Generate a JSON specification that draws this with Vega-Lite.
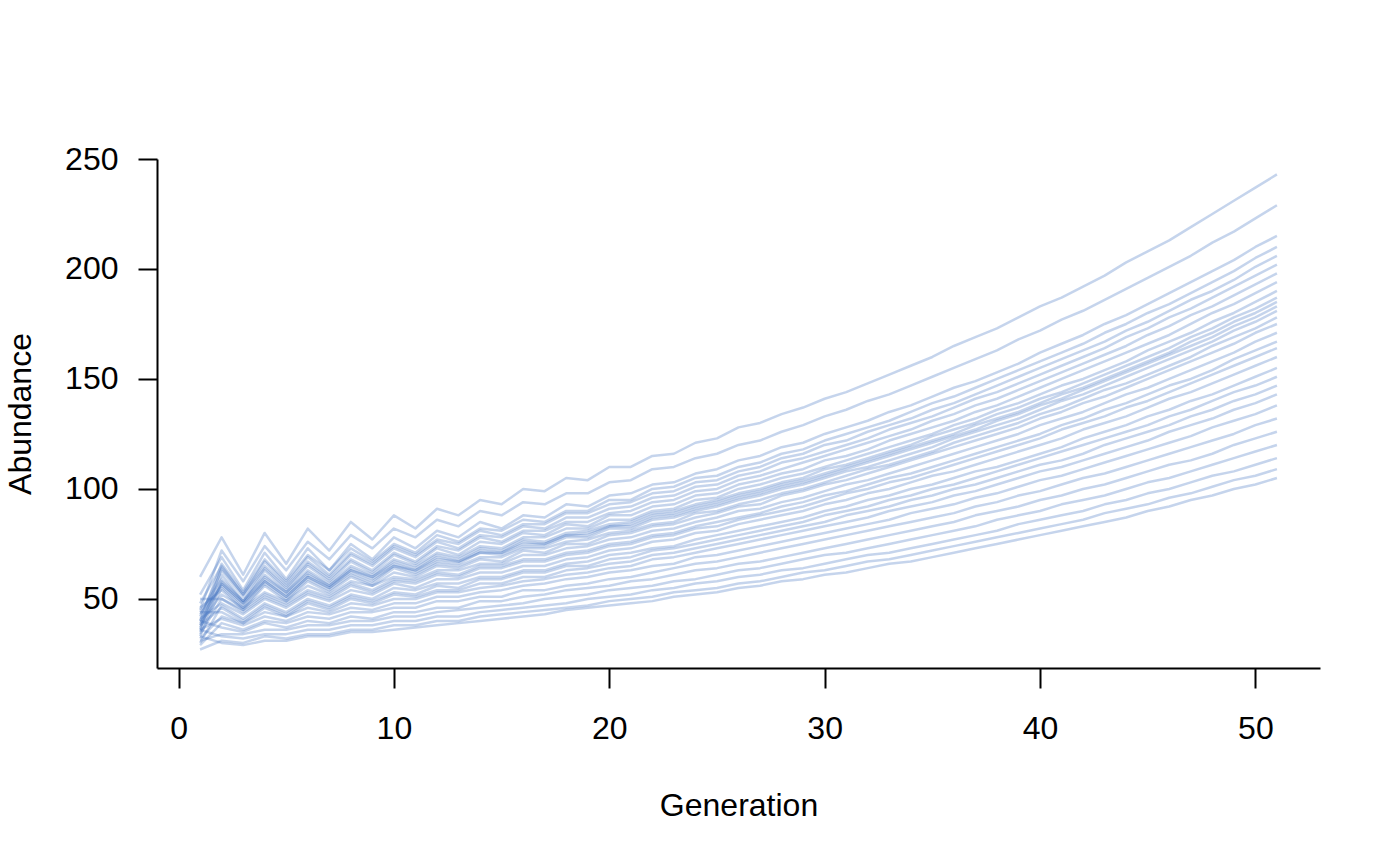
{
"$schema": "https://vega.github.io/schema/vega-lite/v6.json",
"width": 1163,
"height": 509,
"autosize": {"type": "none"},
"padding": {"left": 157, "top": 159, "right": 80, "bottom": 197},
"background": "white",
"config": {"view": {"stroke": null}, "font": "Liberation Sans"},
"data": {"values": [
{"r":1,"g":1,"v":60},{"r":1,"g":2,"v":78},{"r":1,"g":3,"v":61},{"r":1,"g":4,"v":80},{"r":1,"g":5,"v":66},{"r":1,"g":6,"v":82},{"r":1,"g":7,"v":72},{"r":1,"g":8,"v":85},{"r":1,"g":9,"v":77},{"r":1,"g":10,"v":88},{"r":1,"g":11,"v":82},{"r":1,"g":12,"v":91},{"r":1,"g":13,"v":88},{"r":1,"g":14,"v":95},{"r":1,"g":15,"v":93},{"r":1,"g":16,"v":100},{"r":1,"g":17,"v":99},{"r":1,"g":18,"v":105},{"r":1,"g":19,"v":104},{"r":1,"g":20,"v":110},{"r":1,"g":21,"v":110},{"r":1,"g":22,"v":115},{"r":1,"g":23,"v":116},{"r":1,"g":24,"v":121},{"r":1,"g":25,"v":123},{"r":1,"g":26,"v":128},{"r":1,"g":27,"v":130},{"r":1,"g":28,"v":134},{"r":1,"g":29,"v":137},{"r":1,"g":30,"v":141},{"r":1,"g":31,"v":144},{"r":1,"g":32,"v":148},{"r":1,"g":33,"v":152},{"r":1,"g":34,"v":156},{"r":1,"g":35,"v":160},{"r":1,"g":36,"v":165},{"r":1,"g":37,"v":169},{"r":1,"g":38,"v":173},{"r":1,"g":39,"v":178},{"r":1,"g":40,"v":183},{"r":1,"g":41,"v":187},{"r":1,"g":42,"v":192},{"r":1,"g":43,"v":197},{"r":1,"g":44,"v":203},{"r":1,"g":45,"v":208},{"r":1,"g":46,"v":213},{"r":1,"g":47,"v":219},{"r":1,"g":48,"v":225},{"r":1,"g":49,"v":231},{"r":1,"g":50,"v":237},{"r":1,"g":51,"v":243},
{"r":2,"g":1,"v":52},{"r":2,"g":2,"v":69},{"r":2,"g":3,"v":54},{"r":2,"g":4,"v":71},{"r":2,"g":5,"v":59},{"r":2,"g":6,"v":73},{"r":2,"g":7,"v":63},{"r":2,"g":8,"v":75},{"r":2,"g":9,"v":68},{"r":2,"g":10,"v":78},{"r":2,"g":11,"v":73},{"r":2,"g":12,"v":81},{"r":2,"g":13,"v":78},{"r":2,"g":14,"v":85},{"r":2,"g":15,"v":82},{"r":2,"g":16,"v":88},{"r":2,"g":17,"v":87},{"r":2,"g":18,"v":93},{"r":2,"g":19,"v":92},{"r":2,"g":20,"v":97},{"r":2,"g":21,"v":98},{"r":2,"g":22,"v":102},{"r":2,"g":23,"v":103},{"r":2,"g":24,"v":107},{"r":2,"g":25,"v":109},{"r":2,"g":26,"v":113},{"r":2,"g":27,"v":115},{"r":2,"g":28,"v":119},{"r":2,"g":29,"v":121},{"r":2,"g":30,"v":125},{"r":2,"g":31,"v":128},{"r":2,"g":32,"v":131},{"r":2,"g":33,"v":135},{"r":2,"g":34,"v":138},{"r":2,"g":35,"v":142},{"r":2,"g":36,"v":146},{"r":2,"g":37,"v":149},{"r":2,"g":38,"v":153},{"r":2,"g":39,"v":157},{"r":2,"g":40,"v":162},{"r":2,"g":41,"v":166},{"r":2,"g":42,"v":170},{"r":2,"g":43,"v":175},{"r":2,"g":44,"v":179},{"r":2,"g":45,"v":184},{"r":2,"g":46,"v":189},{"r":2,"g":47,"v":194},{"r":2,"g":48,"v":199},{"r":2,"g":49,"v":204},{"r":2,"g":50,"v":210},{"r":2,"g":51,"v":215},
{"r":3,"g":1,"v":45},{"r":3,"g":2,"v":72},{"r":3,"g":3,"v":58},{"r":3,"g":4,"v":74},{"r":3,"g":5,"v":63},{"r":3,"g":6,"v":76},{"r":3,"g":7,"v":68},{"r":3,"g":8,"v":79},{"r":3,"g":9,"v":73},{"r":3,"g":10,"v":82},{"r":3,"g":11,"v":78},{"r":3,"g":12,"v":86},{"r":3,"g":13,"v":83},{"r":3,"g":14,"v":90},{"r":3,"g":15,"v":88},{"r":3,"g":16,"v":94},{"r":3,"g":17,"v":93},{"r":3,"g":18,"v":98},{"r":3,"g":19,"v":98},{"r":3,"g":20,"v":103},{"r":3,"g":21,"v":104},{"r":3,"g":22,"v":109},{"r":3,"g":23,"v":110},{"r":3,"g":24,"v":114},{"r":3,"g":25,"v":116},{"r":3,"g":26,"v":120},{"r":3,"g":27,"v":122},{"r":3,"g":28,"v":126},{"r":3,"g":29,"v":129},{"r":3,"g":30,"v":133},{"r":3,"g":31,"v":136},{"r":3,"g":32,"v":140},{"r":3,"g":33,"v":143},{"r":3,"g":34,"v":147},{"r":3,"g":35,"v":151},{"r":3,"g":36,"v":155},{"r":3,"g":37,"v":159},{"r":3,"g":38,"v":163},{"r":3,"g":39,"v":168},{"r":3,"g":40,"v":172},{"r":3,"g":41,"v":177},{"r":3,"g":42,"v":181},{"r":3,"g":43,"v":186},{"r":3,"g":44,"v":191},{"r":3,"g":45,"v":196},{"r":3,"g":46,"v":201},{"r":3,"g":47,"v":206},{"r":3,"g":48,"v":212},{"r":3,"g":49,"v":217},{"r":3,"g":50,"v":223},{"r":3,"g":51,"v":229},
{"r":4,"g":1,"v":40},{"r":4,"g":2,"v":66},{"r":4,"g":3,"v":53},{"r":4,"g":4,"v":68},{"r":4,"g":5,"v":58},{"r":4,"g":6,"v":70},{"r":4,"g":7,"v":63},{"r":4,"g":8,"v":73},{"r":4,"g":9,"v":67},{"r":4,"g":10,"v":75},{"r":4,"g":11,"v":71},{"r":4,"g":12,"v":79},{"r":4,"g":13,"v":76},{"r":4,"g":14,"v":82},{"r":4,"g":15,"v":81},{"r":4,"g":16,"v":86},{"r":4,"g":17,"v":85},{"r":4,"g":18,"v":90},{"r":4,"g":19,"v":90},{"r":4,"g":20,"v":95},{"r":4,"g":21,"v":95},{"r":4,"g":22,"v":100},{"r":4,"g":23,"v":101},{"r":4,"g":24,"v":105},{"r":4,"g":25,"v":106},{"r":4,"g":26,"v":110},{"r":4,"g":27,"v":112},{"r":4,"g":28,"v":116},{"r":4,"g":29,"v":118},{"r":4,"g":30,"v":122},{"r":4,"g":31,"v":125},{"r":4,"g":32,"v":128},{"r":4,"g":33,"v":131},{"r":4,"g":34,"v":135},{"r":4,"g":35,"v":139},{"r":4,"g":36,"v":142},{"r":4,"g":37,"v":146},{"r":4,"g":38,"v":150},{"r":4,"g":39,"v":154},{"r":4,"g":40,"v":158},{"r":4,"g":41,"v":162},{"r":4,"g":42,"v":166},{"r":4,"g":43,"v":171},{"r":4,"g":44,"v":175},{"r":4,"g":45,"v":180},{"r":4,"g":46,"v":184},{"r":4,"g":47,"v":189},{"r":4,"g":48,"v":194},{"r":4,"g":49,"v":199},{"r":4,"g":50,"v":205},{"r":4,"g":51,"v":210},
{"r":5,"g":1,"v":48},{"r":5,"g":2,"v":65},{"r":5,"g":3,"v":52},{"r":5,"g":4,"v":67},{"r":5,"g":5,"v":57},{"r":5,"g":6,"v":69},{"r":5,"g":7,"v":61},{"r":5,"g":8,"v":71},{"r":5,"g":9,"v":66},{"r":5,"g":10,"v":74},{"r":5,"g":11,"v":70},{"r":5,"g":12,"v":77},{"r":5,"g":13,"v":75},{"r":5,"g":14,"v":81},{"r":5,"g":15,"v":79},{"r":5,"g":16,"v":84},{"r":5,"g":17,"v":84},{"r":5,"g":18,"v":89},{"r":5,"g":19,"v":89},{"r":5,"g":20,"v":93},{"r":5,"g":21,"v":94},{"r":5,"g":22,"v":98},{"r":5,"g":23,"v":99},{"r":5,"g":24,"v":103},{"r":5,"g":25,"v":104},{"r":5,"g":26,"v":108},{"r":5,"g":27,"v":110},{"r":5,"g":28,"v":114},{"r":5,"g":29,"v":116},{"r":5,"g":30,"v":120},{"r":5,"g":31,"v":122},{"r":5,"g":32,"v":126},{"r":5,"g":33,"v":129},{"r":5,"g":34,"v":132},{"r":5,"g":35,"v":136},{"r":5,"g":36,"v":139},{"r":5,"g":37,"v":143},{"r":5,"g":38,"v":147},{"r":5,"g":39,"v":151},{"r":5,"g":40,"v":155},{"r":5,"g":41,"v":159},{"r":5,"g":42,"v":163},{"r":5,"g":43,"v":167},{"r":5,"g":44,"v":172},{"r":5,"g":45,"v":176},{"r":5,"g":46,"v":181},{"r":5,"g":47,"v":186},{"r":5,"g":48,"v":190},{"r":5,"g":49,"v":195},{"r":5,"g":50,"v":201},{"r":5,"g":51,"v":206},
{"r":6,"g":1,"v":36},{"r":6,"g":2,"v":64},{"r":6,"g":3,"v":52},{"r":6,"g":4,"v":65},{"r":6,"g":5,"v":56},{"r":6,"g":6,"v":67},{"r":6,"g":7,"v":60},{"r":6,"g":8,"v":70},{"r":6,"g":9,"v":65},{"r":6,"g":10,"v":73},{"r":6,"g":11,"v":69},{"r":6,"g":12,"v":76},{"r":6,"g":13,"v":73},{"r":6,"g":14,"v":79},{"r":6,"g":15,"v":78},{"r":6,"g":16,"v":83},{"r":6,"g":17,"v":82},{"r":6,"g":18,"v":87},{"r":6,"g":19,"v":87},{"r":6,"g":20,"v":91},{"r":6,"g":21,"v":92},{"r":6,"g":22,"v":96},{"r":6,"g":23,"v":97},{"r":6,"g":24,"v":101},{"r":6,"g":25,"v":102},{"r":6,"g":26,"v":106},{"r":6,"g":27,"v":108},{"r":6,"g":28,"v":112},{"r":6,"g":29,"v":114},{"r":6,"g":30,"v":117},{"r":6,"g":31,"v":120},{"r":6,"g":32,"v":123},{"r":6,"g":33,"v":127},{"r":6,"g":34,"v":130},{"r":6,"g":35,"v":133},{"r":6,"g":36,"v":137},{"r":6,"g":37,"v":141},{"r":6,"g":38,"v":144},{"r":6,"g":39,"v":148},{"r":6,"g":40,"v":152},{"r":6,"g":41,"v":156},{"r":6,"g":42,"v":160},{"r":6,"g":43,"v":164},{"r":6,"g":44,"v":169},{"r":6,"g":45,"v":173},{"r":6,"g":46,"v":178},{"r":6,"g":47,"v":182},{"r":6,"g":48,"v":187},{"r":6,"g":49,"v":192},{"r":6,"g":50,"v":197},{"r":6,"g":51,"v":202},
{"r":7,"g":1,"v":42},{"r":7,"g":2,"v":63},{"r":7,"g":3,"v":51},{"r":7,"g":4,"v":64},{"r":7,"g":5,"v":55},{"r":7,"g":6,"v":66},{"r":7,"g":7,"v":59},{"r":7,"g":8,"v":68},{"r":7,"g":9,"v":63},{"r":7,"g":10,"v":71},{"r":7,"g":11,"v":67},{"r":7,"g":12,"v":74},{"r":7,"g":13,"v":72},{"r":7,"g":14,"v":78},{"r":7,"g":15,"v":76},{"r":7,"g":16,"v":81},{"r":7,"g":17,"v":81},{"r":7,"g":18,"v":85},{"r":7,"g":19,"v":85},{"r":7,"g":20,"v":89},{"r":7,"g":21,"v":90},{"r":7,"g":22,"v":94},{"r":7,"g":23,"v":95},{"r":7,"g":24,"v":99},{"r":7,"g":25,"v":100},{"r":7,"g":26,"v":104},{"r":7,"g":27,"v":106},{"r":7,"g":28,"v":109},{"r":7,"g":29,"v":112},{"r":7,"g":30,"v":115},{"r":7,"g":31,"v":118},{"r":7,"g":32,"v":121},{"r":7,"g":33,"v":124},{"r":7,"g":34,"v":127},{"r":7,"g":35,"v":131},{"r":7,"g":36,"v":134},{"r":7,"g":37,"v":138},{"r":7,"g":38,"v":141},{"r":7,"g":39,"v":145},{"r":7,"g":40,"v":149},{"r":7,"g":41,"v":153},{"r":7,"g":42,"v":157},{"r":7,"g":43,"v":161},{"r":7,"g":44,"v":165},{"r":7,"g":45,"v":170},{"r":7,"g":46,"v":174},{"r":7,"g":47,"v":179},{"r":7,"g":48,"v":183},{"r":7,"g":49,"v":188},{"r":7,"g":50,"v":193},{"r":7,"g":51,"v":198},
{"r":8,"g":1,"v":38},{"r":8,"g":2,"v":61},{"r":8,"g":3,"v":49},{"r":8,"g":4,"v":63},{"r":8,"g":5,"v":54},{"r":8,"g":6,"v":65},{"r":8,"g":7,"v":58},{"r":8,"g":8,"v":67},{"r":8,"g":9,"v":62},{"r":8,"g":10,"v":70},{"r":8,"g":11,"v":66},{"r":8,"g":12,"v":73},{"r":8,"g":13,"v":70},{"r":8,"g":14,"v":76},{"r":8,"g":15,"v":75},{"r":8,"g":16,"v":80},{"r":8,"g":17,"v":79},{"r":8,"g":18,"v":84},{"r":8,"g":19,"v":83},{"r":8,"g":20,"v":88},{"r":8,"g":21,"v":88},{"r":8,"g":22,"v":92},{"r":8,"g":23,"v":93},{"r":8,"g":24,"v":97},{"r":8,"g":25,"v":98},{"r":8,"g":26,"v":102},{"r":8,"g":27,"v":104},{"r":8,"g":28,"v":107},{"r":8,"g":29,"v":109},{"r":8,"g":30,"v":113},{"r":8,"g":31,"v":115},{"r":8,"g":32,"v":118},{"r":8,"g":33,"v":122},{"r":8,"g":34,"v":125},{"r":8,"g":35,"v":128},{"r":8,"g":36,"v":131},{"r":8,"g":37,"v":135},{"r":8,"g":38,"v":138},{"r":8,"g":39,"v":142},{"r":8,"g":40,"v":146},{"r":8,"g":41,"v":150},{"r":8,"g":42,"v":154},{"r":8,"g":43,"v":158},{"r":8,"g":44,"v":162},{"r":8,"g":45,"v":166},{"r":8,"g":46,"v":170},{"r":8,"g":47,"v":175},{"r":8,"g":48,"v":180},{"r":8,"g":49,"v":184},{"r":8,"g":50,"v":189},{"r":8,"g":51,"v":194},
{"r":9,"g":1,"v":44},{"r":9,"g":2,"v":59},{"r":9,"g":3,"v":49},{"r":9,"g":4,"v":61},{"r":9,"g":5,"v":53},{"r":9,"g":6,"v":63},{"r":9,"g":7,"v":57},{"r":9,"g":8,"v":65},{"r":9,"g":9,"v":61},{"r":9,"g":10,"v":68},{"r":9,"g":11,"v":65},{"r":9,"g":12,"v":71},{"r":9,"g":13,"v":69},{"r":9,"g":14,"v":74},{"r":9,"g":15,"v":73},{"r":9,"g":16,"v":78},{"r":9,"g":17,"v":78},{"r":9,"g":18,"v":82},{"r":9,"g":19,"v":82},{"r":9,"g":20,"v":86},{"r":9,"g":21,"v":86},{"r":9,"g":22,"v":90},{"r":9,"g":23,"v":91},{"r":9,"g":24,"v":95},{"r":9,"g":25,"v":96},{"r":9,"g":26,"v":100},{"r":9,"g":27,"v":102},{"r":9,"g":28,"v":105},{"r":9,"g":29,"v":107},{"r":9,"g":30,"v":110},{"r":9,"g":31,"v":113},{"r":9,"g":32,"v":116},{"r":9,"g":33,"v":119},{"r":9,"g":34,"v":122},{"r":9,"g":35,"v":125},{"r":9,"g":36,"v":129},{"r":9,"g":37,"v":132},{"r":9,"g":38,"v":136},{"r":9,"g":39,"v":139},{"r":9,"g":40,"v":143},{"r":9,"g":41,"v":147},{"r":9,"g":42,"v":150},{"r":9,"g":43,"v":154},{"r":9,"g":44,"v":158},{"r":9,"g":45,"v":163},{"r":9,"g":46,"v":167},{"r":9,"g":47,"v":171},{"r":9,"g":48,"v":176},{"r":9,"g":49,"v":180},{"r":9,"g":50,"v":185},{"r":9,"g":51,"v":190},
{"r":10,"g":1,"v":35},{"r":10,"g":2,"v":58},{"r":10,"g":3,"v":49},{"r":10,"g":4,"v":60},{"r":10,"g":5,"v":53},{"r":10,"g":6,"v":62},{"r":10,"g":7,"v":56},{"r":10,"g":8,"v":64},{"r":10,"g":9,"v":60},{"r":10,"g":10,"v":67},{"r":10,"g":11,"v":64},{"r":10,"g":12,"v":70},{"r":10,"g":13,"v":68},{"r":10,"g":14,"v":73},{"r":10,"g":15,"v":72},{"r":10,"g":16,"v":77},{"r":10,"g":17,"v":76},{"r":10,"g":18,"v":80},{"r":10,"g":19,"v":81},{"r":10,"g":20,"v":84},{"r":10,"g":21,"v":85},{"r":10,"g":22,"v":89},{"r":10,"g":23,"v":90},{"r":10,"g":24,"v":93},{"r":10,"g":25,"v":95},{"r":10,"g":26,"v":98},{"r":10,"g":27,"v":100},{"r":10,"g":28,"v":103},{"r":10,"g":29,"v":105},{"r":10,"g":30,"v":109},{"r":10,"g":31,"v":111},{"r":10,"g":32,"v":114},{"r":10,"g":33,"v":117},{"r":10,"g":34,"v":120},{"r":10,"g":35,"v":124},{"r":10,"g":36,"v":127},{"r":10,"g":37,"v":130},{"r":10,"g":38,"v":134},{"r":10,"g":39,"v":137},{"r":10,"g":40,"v":141},{"r":10,"g":41,"v":144},{"r":10,"g":42,"v":148},{"r":10,"g":43,"v":152},{"r":10,"g":44,"v":156},{"r":10,"g":45,"v":160},{"r":10,"g":46,"v":164},{"r":10,"g":47,"v":169},{"r":10,"g":48,"v":173},{"r":10,"g":49,"v":178},{"r":10,"g":50,"v":182},{"r":10,"g":51,"v":187},
{"r":11,"g":1,"v":40},{"r":11,"g":2,"v":57},{"r":11,"g":3,"v":48},{"r":11,"g":4,"v":59},{"r":11,"g":5,"v":52},{"r":11,"g":6,"v":61},{"r":11,"g":7,"v":56},{"r":11,"g":8,"v":63},{"r":11,"g":9,"v":60},{"r":11,"g":10,"v":66},{"r":11,"g":11,"v":63},{"r":11,"g":12,"v":69},{"r":11,"g":13,"v":67},{"r":11,"g":14,"v":72},{"r":11,"g":15,"v":71},{"r":11,"g":16,"v":76},{"r":11,"g":17,"v":75},{"r":11,"g":18,"v":79},{"r":11,"g":19,"v":80},{"r":11,"g":20,"v":83},{"r":11,"g":21,"v":84},{"r":11,"g":22,"v":88},{"r":11,"g":23,"v":89},{"r":11,"g":24,"v":92},{"r":11,"g":25,"v":94},{"r":11,"g":26,"v":97},{"r":11,"g":27,"v":99},{"r":11,"g":28,"v":102},{"r":11,"g":29,"v":104},{"r":11,"g":30,"v":107},{"r":11,"g":31,"v":110},{"r":11,"g":32,"v":113},{"r":11,"g":33,"v":116},{"r":11,"g":34,"v":119},{"r":11,"g":35,"v":122},{"r":11,"g":36,"v":125},{"r":11,"g":37,"v":129},{"r":11,"g":38,"v":132},{"r":11,"g":39,"v":135},{"r":11,"g":40,"v":139},{"r":11,"g":41,"v":143},{"r":11,"g":42,"v":146},{"r":11,"g":43,"v":150},{"r":11,"g":44,"v":154},{"r":11,"g":45,"v":158},{"r":11,"g":46,"v":162},{"r":11,"g":47,"v":167},{"r":11,"g":48,"v":171},{"r":11,"g":49,"v":176},{"r":11,"g":50,"v":180},{"r":11,"g":51,"v":185},
{"r":12,"g":1,"v":37},{"r":12,"g":2,"v":57},{"r":12,"g":3,"v":48},{"r":12,"g":4,"v":58},{"r":12,"g":5,"v":51},{"r":12,"g":6,"v":60},{"r":12,"g":7,"v":55},{"r":12,"g":8,"v":63},{"r":12,"g":9,"v":59},{"r":12,"g":10,"v":65},{"r":12,"g":11,"v":63},{"r":12,"g":12,"v":68},{"r":12,"g":13,"v":67},{"r":12,"g":14,"v":71},{"r":12,"g":15,"v":71},{"r":12,"g":16,"v":75},{"r":12,"g":17,"v":75},{"r":12,"g":18,"v":79},{"r":12,"g":19,"v":79},{"r":12,"g":20,"v":83},{"r":12,"g":21,"v":83},{"r":12,"g":22,"v":87},{"r":12,"g":23,"v":88},{"r":12,"g":24,"v":91},{"r":12,"g":25,"v":93},{"r":12,"g":26,"v":96},{"r":12,"g":27,"v":98},{"r":12,"g":28,"v":101},{"r":12,"g":29,"v":103},{"r":12,"g":30,"v":106},{"r":12,"g":31,"v":109},{"r":12,"g":32,"v":112},{"r":12,"g":33,"v":115},{"r":12,"g":34,"v":118},{"r":12,"g":35,"v":121},{"r":12,"g":36,"v":124},{"r":12,"g":37,"v":127},{"r":12,"g":38,"v":131},{"r":12,"g":39,"v":134},{"r":12,"g":40,"v":138},{"r":12,"g":41,"v":141},{"r":12,"g":42,"v":145},{"r":12,"g":43,"v":149},{"r":12,"g":44,"v":153},{"r":12,"g":45,"v":157},{"r":12,"g":46,"v":161},{"r":12,"g":47,"v":165},{"r":12,"g":48,"v":169},{"r":12,"g":49,"v":174},{"r":12,"g":50,"v":178},{"r":12,"g":51,"v":183},
{"r":13,"g":1,"v":43},{"r":13,"g":2,"v":56},{"r":13,"g":3,"v":47},{"r":13,"g":4,"v":58},{"r":13,"g":5,"v":51},{"r":13,"g":6,"v":60},{"r":13,"g":7,"v":55},{"r":13,"g":8,"v":62},{"r":13,"g":9,"v":58},{"r":13,"g":10,"v":65},{"r":13,"g":11,"v":62},{"r":13,"g":12,"v":67},{"r":13,"g":13,"v":66},{"r":13,"g":14,"v":71},{"r":13,"g":15,"v":70},{"r":13,"g":16,"v":74},{"r":13,"g":17,"v":74},{"r":13,"g":18,"v":78},{"r":13,"g":19,"v":78},{"r":13,"g":20,"v":82},{"r":13,"g":21,"v":82},{"r":13,"g":22,"v":86},{"r":13,"g":23,"v":87},{"r":13,"g":24,"v":90},{"r":13,"g":25,"v":92},{"r":13,"g":26,"v":95},{"r":13,"g":27,"v":97},{"r":13,"g":28,"v":100},{"r":13,"g":29,"v":102},{"r":13,"g":30,"v":105},{"r":13,"g":31,"v":108},{"r":13,"g":32,"v":110},{"r":13,"g":33,"v":113},{"r":13,"g":34,"v":116},{"r":13,"g":35,"v":119},{"r":13,"g":36,"v":123},{"r":13,"g":37,"v":126},{"r":13,"g":38,"v":129},{"r":13,"g":39,"v":132},{"r":13,"g":40,"v":136},{"r":13,"g":41,"v":140},{"r":13,"g":42,"v":143},{"r":13,"g":43,"v":147},{"r":13,"g":44,"v":151},{"r":13,"g":45,"v":155},{"r":13,"g":46,"v":159},{"r":13,"g":47,"v":163},{"r":13,"g":48,"v":167},{"r":13,"g":49,"v":172},{"r":13,"g":50,"v":176},{"r":13,"g":51,"v":181},
{"r":14,"g":1,"v":33},{"r":14,"g":2,"v":55},{"r":14,"g":3,"v":46},{"r":14,"g":4,"v":57},{"r":14,"g":5,"v":50},{"r":14,"g":6,"v":59},{"r":14,"g":7,"v":54},{"r":14,"g":8,"v":61},{"r":14,"g":9,"v":57},{"r":14,"g":10,"v":64},{"r":14,"g":11,"v":61},{"r":14,"g":12,"v":66},{"r":14,"g":13,"v":65},{"r":14,"g":14,"v":69},{"r":14,"g":15,"v":69},{"r":14,"g":16,"v":73},{"r":14,"g":17,"v":73},{"r":14,"g":18,"v":76},{"r":14,"g":19,"v":77},{"r":14,"g":20,"v":80},{"r":14,"g":21,"v":81},{"r":14,"g":22,"v":84},{"r":14,"g":23,"v":85},{"r":14,"g":24,"v":89},{"r":14,"g":25,"v":90},{"r":14,"g":26,"v":93},{"r":14,"g":27,"v":95},{"r":14,"g":28,"v":98},{"r":14,"g":29,"v":100},{"r":14,"g":30,"v":103},{"r":14,"g":31,"v":106},{"r":14,"g":32,"v":109},{"r":14,"g":33,"v":111},{"r":14,"g":34,"v":114},{"r":14,"g":35,"v":117},{"r":14,"g":36,"v":121},{"r":14,"g":37,"v":124},{"r":14,"g":38,"v":127},{"r":14,"g":39,"v":130},{"r":14,"g":40,"v":134},{"r":14,"g":41,"v":137},{"r":14,"g":42,"v":141},{"r":14,"g":43,"v":145},{"r":14,"g":44,"v":148},{"r":14,"g":45,"v":152},{"r":14,"g":46,"v":156},{"r":14,"g":47,"v":160},{"r":14,"g":48,"v":165},{"r":14,"g":49,"v":169},{"r":14,"g":50,"v":173},{"r":14,"g":51,"v":178},
{"r":15,"g":1,"v":46},{"r":15,"g":2,"v":54},{"r":15,"g":3,"v":45},{"r":15,"g":4,"v":56},{"r":15,"g":5,"v":49},{"r":15,"g":6,"v":58},{"r":15,"g":7,"v":53},{"r":15,"g":8,"v":60},{"r":15,"g":9,"v":56},{"r":15,"g":10,"v":62},{"r":15,"g":11,"v":60},{"r":15,"g":12,"v":65},{"r":15,"g":13,"v":64},{"r":15,"g":14,"v":68},{"r":15,"g":15,"v":67},{"r":15,"g":16,"v":72},{"r":15,"g":17,"v":71},{"r":15,"g":18,"v":75},{"r":15,"g":19,"v":75},{"r":15,"g":20,"v":79},{"r":15,"g":21,"v":80},{"r":15,"g":22,"v":83},{"r":15,"g":23,"v":84},{"r":15,"g":24,"v":87},{"r":15,"g":25,"v":89},{"r":15,"g":26,"v":92},{"r":15,"g":27,"v":93},{"r":15,"g":28,"v":97},{"r":15,"g":29,"v":99},{"r":15,"g":30,"v":102},{"r":15,"g":31,"v":104},{"r":15,"g":32,"v":107},{"r":15,"g":33,"v":110},{"r":15,"g":34,"v":113},{"r":15,"g":35,"v":116},{"r":15,"g":36,"v":119},{"r":15,"g":37,"v":122},{"r":15,"g":38,"v":125},{"r":15,"g":39,"v":128},{"r":15,"g":40,"v":132},{"r":15,"g":41,"v":135},{"r":15,"g":42,"v":139},{"r":15,"g":43,"v":142},{"r":15,"g":44,"v":146},{"r":15,"g":45,"v":150},{"r":15,"g":46,"v":154},{"r":15,"g":47,"v":158},{"r":15,"g":48,"v":162},{"r":15,"g":49,"v":166},{"r":15,"g":50,"v":171},{"r":15,"g":51,"v":175},
{"r":16,"g":1,"v":39},{"r":16,"g":2,"v":52},{"r":16,"g":3,"v":46},{"r":16,"g":4,"v":53},{"r":16,"g":5,"v":49},{"r":16,"g":6,"v":56},{"r":16,"g":7,"v":52},{"r":16,"g":8,"v":58},{"r":16,"g":9,"v":56},{"r":16,"g":10,"v":60},{"r":16,"g":11,"v":59},{"r":16,"g":12,"v":63},{"r":16,"g":13,"v":63},{"r":16,"g":14,"v":66},{"r":16,"g":15,"v":66},{"r":16,"g":16,"v":70},{"r":16,"g":17,"v":70},{"r":16,"g":18,"v":73},{"r":16,"g":19,"v":74},{"r":16,"g":20,"v":77},{"r":16,"g":21,"v":78},{"r":16,"g":22,"v":81},{"r":16,"g":23,"v":82},{"r":16,"g":24,"v":85},{"r":16,"g":25,"v":87},{"r":16,"g":26,"v":90},{"r":16,"g":27,"v":91},{"r":16,"g":28,"v":94},{"r":16,"g":29,"v":96},{"r":16,"g":30,"v":99},{"r":16,"g":31,"v":102},{"r":16,"g":32,"v":104},{"r":16,"g":33,"v":107},{"r":16,"g":34,"v":110},{"r":16,"g":35,"v":113},{"r":16,"g":36,"v":116},{"r":16,"g":37,"v":119},{"r":16,"g":38,"v":122},{"r":16,"g":39,"v":125},{"r":16,"g":40,"v":129},{"r":16,"g":41,"v":132},{"r":16,"g":42,"v":135},{"r":16,"g":43,"v":139},{"r":16,"g":44,"v":143},{"r":16,"g":45,"v":146},{"r":16,"g":46,"v":150},{"r":16,"g":47,"v":154},{"r":16,"g":48,"v":158},{"r":16,"g":49,"v":162},{"r":16,"g":50,"v":167},{"r":16,"g":51,"v":171},
{"r":17,"g":1,"v":50},{"r":17,"g":2,"v":50},{"r":17,"g":3,"v":45},{"r":17,"g":4,"v":52},{"r":17,"g":5,"v":48},{"r":17,"g":6,"v":54},{"r":17,"g":7,"v":51},{"r":17,"g":8,"v":57},{"r":17,"g":9,"v":54},{"r":17,"g":10,"v":59},{"r":17,"g":11,"v":58},{"r":17,"g":12,"v":62},{"r":17,"g":13,"v":61},{"r":17,"g":14,"v":65},{"r":17,"g":15,"v":65},{"r":17,"g":16,"v":68},{"r":17,"g":17,"v":68},{"r":17,"g":18,"v":71},{"r":17,"g":19,"v":72},{"r":17,"g":20,"v":75},{"r":17,"g":21,"v":76},{"r":17,"g":22,"v":79},{"r":17,"g":23,"v":80},{"r":17,"g":24,"v":83},{"r":17,"g":25,"v":85},{"r":17,"g":26,"v":87},{"r":17,"g":27,"v":89},{"r":17,"g":28,"v":92},{"r":17,"g":29,"v":94},{"r":17,"g":30,"v":97},{"r":17,"g":31,"v":99},{"r":17,"g":32,"v":102},{"r":17,"g":33,"v":105},{"r":17,"g":34,"v":107},{"r":17,"g":35,"v":110},{"r":17,"g":36,"v":113},{"r":17,"g":37,"v":116},{"r":17,"g":38,"v":119},{"r":17,"g":39,"v":122},{"r":17,"g":40,"v":125},{"r":17,"g":41,"v":129},{"r":17,"g":42,"v":132},{"r":17,"g":43,"v":136},{"r":17,"g":44,"v":139},{"r":17,"g":45,"v":143},{"r":17,"g":46,"v":147},{"r":17,"g":47,"v":150},{"r":17,"g":48,"v":154},{"r":17,"g":49,"v":159},{"r":17,"g":50,"v":163},{"r":17,"g":51,"v":167},
{"r":18,"g":1,"v":34},{"r":18,"g":2,"v":50},{"r":18,"g":3,"v":44},{"r":18,"g":4,"v":51},{"r":18,"g":5,"v":47},{"r":18,"g":6,"v":53},{"r":18,"g":7,"v":50},{"r":18,"g":8,"v":56},{"r":18,"g":9,"v":53},{"r":18,"g":10,"v":58},{"r":18,"g":11,"v":57},{"r":18,"g":12,"v":61},{"r":18,"g":13,"v":60},{"r":18,"g":14,"v":64},{"r":18,"g":15,"v":64},{"r":18,"g":16,"v":67},{"r":18,"g":17,"v":67},{"r":18,"g":18,"v":70},{"r":18,"g":19,"v":71},{"r":18,"g":20,"v":74},{"r":18,"g":21,"v":75},{"r":18,"g":22,"v":78},{"r":18,"g":23,"v":79},{"r":18,"g":24,"v":82},{"r":18,"g":25,"v":83},{"r":18,"g":26,"v":86},{"r":18,"g":27,"v":88},{"r":18,"g":28,"v":90},{"r":18,"g":29,"v":92},{"r":18,"g":30,"v":95},{"r":18,"g":31,"v":98},{"r":18,"g":32,"v":100},{"r":18,"g":33,"v":103},{"r":18,"g":34,"v":105},{"r":18,"g":35,"v":108},{"r":18,"g":36,"v":111},{"r":18,"g":37,"v":114},{"r":18,"g":38,"v":117},{"r":18,"g":39,"v":120},{"r":18,"g":40,"v":123},{"r":18,"g":41,"v":127},{"r":18,"g":42,"v":130},{"r":18,"g":43,"v":133},{"r":18,"g":44,"v":137},{"r":18,"g":45,"v":140},{"r":18,"g":46,"v":144},{"r":18,"g":47,"v":148},{"r":18,"g":48,"v":152},{"r":18,"g":49,"v":156},{"r":18,"g":50,"v":160},{"r":18,"g":51,"v":164},
{"r":19,"g":1,"v":41},{"r":19,"g":2,"v":48},{"r":19,"g":3,"v":43},{"r":19,"g":4,"v":50},{"r":19,"g":5,"v":46},{"r":19,"g":6,"v":52},{"r":19,"g":7,"v":49},{"r":19,"g":8,"v":54},{"r":19,"g":9,"v":52},{"r":19,"g":10,"v":57},{"r":19,"g":11,"v":55},{"r":19,"g":12,"v":59},{"r":19,"g":13,"v":59},{"r":19,"g":14,"v":62},{"r":19,"g":15,"v":62},{"r":19,"g":16,"v":65},{"r":19,"g":17,"v":65},{"r":19,"g":18,"v":68},{"r":19,"g":19,"v":69},{"r":19,"g":20,"v":72},{"r":19,"g":21,"v":73},{"r":19,"g":22,"v":76},{"r":19,"g":23,"v":77},{"r":19,"g":24,"v":80},{"r":19,"g":25,"v":81},{"r":19,"g":26,"v":84},{"r":19,"g":27,"v":86},{"r":19,"g":28,"v":88},{"r":19,"g":29,"v":90},{"r":19,"g":30,"v":93},{"r":19,"g":31,"v":95},{"r":19,"g":32,"v":98},{"r":19,"g":33,"v":100},{"r":19,"g":34,"v":103},{"r":19,"g":35,"v":106},{"r":19,"g":36,"v":108},{"r":19,"g":37,"v":111},{"r":19,"g":38,"v":114},{"r":19,"g":39,"v":117},{"r":19,"g":40,"v":120},{"r":19,"g":41,"v":123},{"r":19,"g":42,"v":127},{"r":19,"g":43,"v":130},{"r":19,"g":44,"v":133},{"r":19,"g":45,"v":137},{"r":19,"g":46,"v":141},{"r":19,"g":47,"v":144},{"r":19,"g":48,"v":148},{"r":19,"g":49,"v":152},{"r":19,"g":50,"v":156},{"r":19,"g":51,"v":160},
{"r":20,"g":1,"v":30},{"r":20,"g":2,"v":47},{"r":20,"g":3,"v":41},{"r":20,"g":4,"v":48},{"r":20,"g":5,"v":44},{"r":20,"g":6,"v":50},{"r":20,"g":7,"v":47},{"r":20,"g":8,"v":52},{"r":20,"g":9,"v":50},{"r":20,"g":10,"v":55},{"r":20,"g":11,"v":54},{"r":20,"g":12,"v":57},{"r":20,"g":13,"v":57},{"r":20,"g":14,"v":60},{"r":20,"g":15,"v":60},{"r":20,"g":16,"v":63},{"r":20,"g":17,"v":63},{"r":20,"g":18,"v":66},{"r":20,"g":19,"v":67},{"r":20,"g":20,"v":70},{"r":20,"g":21,"v":71},{"r":20,"g":22,"v":73},{"r":20,"g":23,"v":74},{"r":20,"g":24,"v":77},{"r":20,"g":25,"v":79},{"r":20,"g":26,"v":81},{"r":20,"g":27,"v":83},{"r":20,"g":28,"v":85},{"r":20,"g":29,"v":87},{"r":20,"g":30,"v":90},{"r":20,"g":31,"v":92},{"r":20,"g":32,"v":95},{"r":20,"g":33,"v":97},{"r":20,"g":34,"v":100},{"r":20,"g":35,"v":102},{"r":20,"g":36,"v":105},{"r":20,"g":37,"v":108},{"r":20,"g":38,"v":110},{"r":20,"g":39,"v":113},{"r":20,"g":40,"v":116},{"r":20,"g":41,"v":119},{"r":20,"g":42,"v":123},{"r":20,"g":43,"v":126},{"r":20,"g":44,"v":129},{"r":20,"g":45,"v":133},{"r":20,"g":46,"v":136},{"r":20,"g":47,"v":140},{"r":20,"g":48,"v":143},{"r":20,"g":49,"v":147},{"r":20,"g":50,"v":151},{"r":20,"g":51,"v":155},
{"r":21,"g":1,"v":38},{"r":21,"g":2,"v":46},{"r":21,"g":3,"v":40},{"r":21,"g":4,"v":47},{"r":21,"g":5,"v":43},{"r":21,"g":6,"v":49},{"r":21,"g":7,"v":46},{"r":21,"g":8,"v":51},{"r":21,"g":9,"v":49},{"r":21,"g":10,"v":53},{"r":21,"g":11,"v":52},{"r":21,"g":12,"v":56},{"r":21,"g":13,"v":55},{"r":21,"g":14,"v":59},{"r":21,"g":15,"v":59},{"r":21,"g":16,"v":62},{"r":21,"g":17,"v":62},{"r":21,"g":18,"v":65},{"r":21,"g":19,"v":65},{"r":21,"g":20,"v":68},{"r":21,"g":21,"v":69},{"r":21,"g":22,"v":72},{"r":21,"g":23,"v":73},{"r":21,"g":24,"v":75},{"r":21,"g":25,"v":77},{"r":21,"g":26,"v":79},{"r":21,"g":27,"v":81},{"r":21,"g":28,"v":83},{"r":21,"g":29,"v":85},{"r":21,"g":30,"v":88},{"r":21,"g":31,"v":90},{"r":21,"g":32,"v":92},{"r":21,"g":33,"v":95},{"r":21,"g":34,"v":97},{"r":21,"g":35,"v":100},{"r":21,"g":36,"v":102},{"r":21,"g":37,"v":105},{"r":21,"g":38,"v":108},{"r":21,"g":39,"v":111},{"r":21,"g":40,"v":114},{"r":21,"g":41,"v":117},{"r":21,"g":42,"v":120},{"r":21,"g":43,"v":123},{"r":21,"g":44,"v":126},{"r":21,"g":45,"v":129},{"r":21,"g":46,"v":133},{"r":21,"g":47,"v":136},{"r":21,"g":48,"v":140},{"r":21,"g":49,"v":144},{"r":21,"g":50,"v":147},{"r":21,"g":51,"v":151},
{"r":22,"g":1,"v":44},{"r":22,"g":2,"v":44},{"r":22,"g":3,"v":39},{"r":22,"g":4,"v":46},{"r":22,"g":5,"v":42},{"r":22,"g":6,"v":48},{"r":22,"g":7,"v":45},{"r":22,"g":8,"v":50},{"r":22,"g":9,"v":48},{"r":22,"g":10,"v":52},{"r":22,"g":11,"v":51},{"r":22,"g":12,"v":54},{"r":22,"g":13,"v":54},{"r":22,"g":14,"v":57},{"r":22,"g":15,"v":57},{"r":22,"g":16,"v":60},{"r":22,"g":17,"v":60},{"r":22,"g":18,"v":63},{"r":22,"g":19,"v":64},{"r":22,"g":20,"v":66},{"r":22,"g":21,"v":67},{"r":22,"g":22,"v":70},{"r":22,"g":23,"v":71},{"r":22,"g":24,"v":73},{"r":22,"g":25,"v":75},{"r":22,"g":26,"v":77},{"r":22,"g":27,"v":79},{"r":22,"g":28,"v":81},{"r":22,"g":29,"v":83},{"r":22,"g":30,"v":85},{"r":22,"g":31,"v":88},{"r":22,"g":32,"v":90},{"r":22,"g":33,"v":92},{"r":22,"g":34,"v":95},{"r":22,"g":35,"v":97},{"r":22,"g":36,"v":100},{"r":22,"g":37,"v":102},{"r":22,"g":38,"v":105},{"r":22,"g":39,"v":108},{"r":22,"g":40,"v":111},{"r":22,"g":41,"v":113},{"r":22,"g":42,"v":116},{"r":22,"g":43,"v":120},{"r":22,"g":44,"v":123},{"r":22,"g":45,"v":126},{"r":22,"g":46,"v":129},{"r":22,"g":47,"v":133},{"r":22,"g":48,"v":136},{"r":22,"g":49,"v":140},{"r":22,"g":50,"v":143},{"r":22,"g":51,"v":147},
{"r":23,"g":1,"v":32},{"r":23,"g":2,"v":42},{"r":23,"g":3,"v":39},{"r":23,"g":4,"v":44},{"r":23,"g":5,"v":42},{"r":23,"g":6,"v":46},{"r":23,"g":7,"v":44},{"r":23,"g":8,"v":48},{"r":23,"g":9,"v":47},{"r":23,"g":10,"v":50},{"r":23,"g":11,"v":50},{"r":23,"g":12,"v":53},{"r":23,"g":13,"v":53},{"r":23,"g":14,"v":55},{"r":23,"g":15,"v":56},{"r":23,"g":16,"v":58},{"r":23,"g":17,"v":59},{"r":23,"g":18,"v":61},{"r":23,"g":19,"v":62},{"r":23,"g":20,"v":64},{"r":23,"g":21,"v":65},{"r":23,"g":22,"v":68},{"r":23,"g":23,"v":69},{"r":23,"g":24,"v":71},{"r":23,"g":25,"v":73},{"r":23,"g":26,"v":75},{"r":23,"g":27,"v":77},{"r":23,"g":28,"v":79},{"r":23,"g":29,"v":81},{"r":23,"g":30,"v":83},{"r":23,"g":31,"v":85},{"r":23,"g":32,"v":87},{"r":23,"g":33,"v":90},{"r":23,"g":34,"v":92},{"r":23,"g":35,"v":94},{"r":23,"g":36,"v":97},{"r":23,"g":37,"v":99},{"r":23,"g":38,"v":102},{"r":23,"g":39,"v":105},{"r":23,"g":40,"v":108},{"r":23,"g":41,"v":110},{"r":23,"g":42,"v":113},{"r":23,"g":43,"v":116},{"r":23,"g":44,"v":119},{"r":23,"g":45,"v":122},{"r":23,"g":46,"v":126},{"r":23,"g":47,"v":129},{"r":23,"g":48,"v":132},{"r":23,"g":49,"v":136},{"r":23,"g":50,"v":139},{"r":23,"g":51,"v":143},
{"r":24,"g":1,"v":36},{"r":24,"g":2,"v":41},{"r":24,"g":3,"v":38},{"r":24,"g":4,"v":42},{"r":24,"g":5,"v":40},{"r":24,"g":6,"v":44},{"r":24,"g":7,"v":43},{"r":24,"g":8,"v":46},{"r":24,"g":9,"v":45},{"r":24,"g":10,"v":48},{"r":24,"g":11,"v":48},{"r":24,"g":12,"v":51},{"r":24,"g":13,"v":51},{"r":24,"g":14,"v":53},{"r":24,"g":15,"v":54},{"r":24,"g":16,"v":56},{"r":24,"g":17,"v":57},{"r":24,"g":18,"v":59},{"r":24,"g":19,"v":60},{"r":24,"g":20,"v":62},{"r":24,"g":21,"v":63},{"r":24,"g":22,"v":65},{"r":24,"g":23,"v":66},{"r":24,"g":24,"v":69},{"r":24,"g":25,"v":70},{"r":24,"g":26,"v":72},{"r":24,"g":27,"v":74},{"r":24,"g":28,"v":76},{"r":24,"g":29,"v":78},{"r":24,"g":30,"v":80},{"r":24,"g":31,"v":82},{"r":24,"g":32,"v":84},{"r":24,"g":33,"v":86},{"r":24,"g":34,"v":89},{"r":24,"g":35,"v":91},{"r":24,"g":36,"v":93},{"r":24,"g":37,"v":96},{"r":24,"g":38,"v":98},{"r":24,"g":39,"v":101},{"r":24,"g":40,"v":104},{"r":24,"g":41,"v":106},{"r":24,"g":42,"v":109},{"r":24,"g":43,"v":112},{"r":24,"g":44,"v":115},{"r":24,"g":45,"v":118},{"r":24,"g":46,"v":121},{"r":24,"g":47,"v":124},{"r":24,"g":48,"v":128},{"r":24,"g":49,"v":131},{"r":24,"g":50,"v":134},{"r":24,"g":51,"v":138},
{"r":25,"g":1,"v":29},{"r":25,"g":2,"v":39},{"r":25,"g":3,"v":36},{"r":25,"g":4,"v":40},{"r":25,"g":5,"v":39},{"r":25,"g":6,"v":42},{"r":25,"g":7,"v":41},{"r":25,"g":8,"v":44},{"r":25,"g":9,"v":44},{"r":25,"g":10,"v":46},{"r":25,"g":11,"v":46},{"r":25,"g":12,"v":49},{"r":25,"g":13,"v":49},{"r":25,"g":14,"v":51},{"r":25,"g":15,"v":51},{"r":25,"g":16,"v":54},{"r":25,"g":17,"v":54},{"r":25,"g":18,"v":56},{"r":25,"g":19,"v":57},{"r":25,"g":20,"v":59},{"r":25,"g":21,"v":60},{"r":25,"g":22,"v":62},{"r":25,"g":23,"v":64},{"r":25,"g":24,"v":66},{"r":25,"g":25,"v":67},{"r":25,"g":26,"v":69},{"r":25,"g":27,"v":71},{"r":25,"g":28,"v":73},{"r":25,"g":29,"v":75},{"r":25,"g":30,"v":77},{"r":25,"g":31,"v":79},{"r":25,"g":32,"v":81},{"r":25,"g":33,"v":83},{"r":25,"g":34,"v":85},{"r":25,"g":35,"v":87},{"r":25,"g":36,"v":89},{"r":25,"g":37,"v":92},{"r":25,"g":38,"v":94},{"r":25,"g":39,"v":97},{"r":25,"g":40,"v":99},{"r":25,"g":41,"v":102},{"r":25,"g":42,"v":105},{"r":25,"g":43,"v":107},{"r":25,"g":44,"v":110},{"r":25,"g":45,"v":113},{"r":25,"g":46,"v":116},{"r":25,"g":47,"v":119},{"r":25,"g":48,"v":122},{"r":25,"g":49,"v":125},{"r":25,"g":50,"v":129},{"r":25,"g":51,"v":132},
{"r":26,"g":1,"v":40},{"r":26,"g":2,"v":37},{"r":26,"g":3,"v":35},{"r":26,"g":4,"v":39},{"r":26,"g":5,"v":37},{"r":26,"g":6,"v":40},{"r":26,"g":7,"v":39},{"r":26,"g":8,"v":42},{"r":26,"g":9,"v":41},{"r":26,"g":10,"v":44},{"r":26,"g":11,"v":44},{"r":26,"g":12,"v":46},{"r":26,"g":13,"v":46},{"r":26,"g":14,"v":49},{"r":26,"g":15,"v":49},{"r":26,"g":16,"v":51},{"r":26,"g":17,"v":52},{"r":26,"g":18,"v":54},{"r":26,"g":19,"v":55},{"r":26,"g":20,"v":56},{"r":26,"g":21,"v":58},{"r":26,"g":22,"v":59},{"r":26,"g":23,"v":61},{"r":26,"g":24,"v":63},{"r":26,"g":25,"v":64},{"r":26,"g":26,"v":66},{"r":26,"g":27,"v":67},{"r":26,"g":28,"v":69},{"r":26,"g":29,"v":71},{"r":26,"g":30,"v":73},{"r":26,"g":31,"v":75},{"r":26,"g":32,"v":77},{"r":26,"g":33,"v":79},{"r":26,"g":34,"v":81},{"r":26,"g":35,"v":83},{"r":26,"g":36,"v":85},{"r":26,"g":37,"v":88},{"r":26,"g":38,"v":90},{"r":26,"g":39,"v":92},{"r":26,"g":40,"v":95},{"r":26,"g":41,"v":97},{"r":26,"g":42,"v":100},{"r":26,"g":43,"v":102},{"r":26,"g":44,"v":105},{"r":26,"g":45,"v":108},{"r":26,"g":46,"v":111},{"r":26,"g":47,"v":113},{"r":26,"g":48,"v":116},{"r":26,"g":49,"v":120},{"r":26,"g":50,"v":123},{"r":26,"g":51,"v":126},
{"r":27,"g":1,"v":31},{"r":27,"g":2,"v":34},{"r":27,"g":3,"v":34},{"r":27,"g":4,"v":36},{"r":27,"g":5,"v":36},{"r":27,"g":6,"v":38},{"r":27,"g":7,"v":38},{"r":27,"g":8,"v":40},{"r":27,"g":9,"v":40},{"r":27,"g":10,"v":42},{"r":27,"g":11,"v":42},{"r":27,"g":12,"v":44},{"r":27,"g":13,"v":45},{"r":27,"g":14,"v":46},{"r":27,"g":15,"v":47},{"r":27,"g":16,"v":48},{"r":27,"g":17,"v":50},{"r":27,"g":18,"v":51},{"r":27,"g":19,"v":52},{"r":27,"g":20,"v":54},{"r":27,"g":21,"v":55},{"r":27,"g":22,"v":56},{"r":27,"g":23,"v":58},{"r":27,"g":24,"v":59},{"r":27,"g":25,"v":61},{"r":27,"g":26,"v":63},{"r":27,"g":27,"v":64},{"r":27,"g":28,"v":66},{"r":27,"g":29,"v":68},{"r":27,"g":30,"v":70},{"r":27,"g":31,"v":71},{"r":27,"g":32,"v":73},{"r":27,"g":33,"v":75},{"r":27,"g":34,"v":77},{"r":27,"g":35,"v":79},{"r":27,"g":36,"v":81},{"r":27,"g":37,"v":83},{"r":27,"g":38,"v":86},{"r":27,"g":39,"v":88},{"r":27,"g":40,"v":90},{"r":27,"g":41,"v":93},{"r":27,"g":42,"v":95},{"r":27,"g":43,"v":97},{"r":27,"g":44,"v":100},{"r":27,"g":45,"v":103},{"r":27,"g":46,"v":105},{"r":27,"g":47,"v":108},{"r":27,"g":48,"v":111},{"r":27,"g":49,"v":114},{"r":27,"g":50,"v":117},{"r":27,"g":51,"v":120},
{"r":28,"g":1,"v":36},{"r":28,"g":2,"v":33},{"r":28,"g":3,"v":32},{"r":28,"g":4,"v":34},{"r":28,"g":5,"v":34},{"r":28,"g":6,"v":36},{"r":28,"g":7,"v":36},{"r":28,"g":8,"v":38},{"r":28,"g":9,"v":38},{"r":28,"g":10,"v":40},{"r":28,"g":11,"v":40},{"r":28,"g":12,"v":42},{"r":28,"g":13,"v":42},{"r":28,"g":14,"v":44},{"r":28,"g":15,"v":45},{"r":28,"g":16,"v":46},{"r":28,"g":17,"v":47},{"r":28,"g":18,"v":48},{"r":28,"g":19,"v":50},{"r":28,"g":20,"v":51},{"r":28,"g":21,"v":52},{"r":28,"g":22,"v":54},{"r":28,"g":23,"v":55},{"r":28,"g":24,"v":57},{"r":28,"g":25,"v":58},{"r":28,"g":26,"v":60},{"r":28,"g":27,"v":61},{"r":28,"g":28,"v":63},{"r":28,"g":29,"v":64},{"r":28,"g":30,"v":66},{"r":28,"g":31,"v":68},{"r":28,"g":32,"v":70},{"r":28,"g":33,"v":71},{"r":28,"g":34,"v":73},{"r":28,"g":35,"v":75},{"r":28,"g":36,"v":77},{"r":28,"g":37,"v":79},{"r":28,"g":38,"v":81},{"r":28,"g":39,"v":84},{"r":28,"g":40,"v":86},{"r":28,"g":41,"v":88},{"r":28,"g":42,"v":90},{"r":28,"g":43,"v":93},{"r":28,"g":44,"v":95},{"r":28,"g":45,"v":98},{"r":28,"g":46,"v":100},{"r":28,"g":47,"v":103},{"r":28,"g":48,"v":106},{"r":28,"g":49,"v":108},{"r":28,"g":50,"v":111},{"r":28,"g":51,"v":114},
{"r":29,"g":1,"v":27},{"r":29,"g":2,"v":31},{"r":29,"g":3,"v":30},{"r":29,"g":4,"v":33},{"r":29,"g":5,"v":32},{"r":29,"g":6,"v":34},{"r":29,"g":7,"v":34},{"r":29,"g":8,"v":36},{"r":29,"g":9,"v":36},{"r":29,"g":10,"v":38},{"r":29,"g":11,"v":38},{"r":29,"g":12,"v":40},{"r":29,"g":13,"v":40},{"r":29,"g":14,"v":42},{"r":29,"g":15,"v":43},{"r":29,"g":16,"v":44},{"r":29,"g":17,"v":45},{"r":29,"g":18,"v":46},{"r":29,"g":19,"v":47},{"r":29,"g":20,"v":49},{"r":29,"g":21,"v":50},{"r":29,"g":22,"v":51},{"r":29,"g":23,"v":53},{"r":29,"g":24,"v":54},{"r":29,"g":25,"v":55},{"r":29,"g":26,"v":57},{"r":29,"g":27,"v":58},{"r":29,"g":28,"v":60},{"r":29,"g":29,"v":62},{"r":29,"g":30,"v":63},{"r":29,"g":31,"v":65},{"r":29,"g":32,"v":67},{"r":29,"g":33,"v":68},{"r":29,"g":34,"v":70},{"r":29,"g":35,"v":72},{"r":29,"g":36,"v":74},{"r":29,"g":37,"v":76},{"r":29,"g":38,"v":78},{"r":29,"g":39,"v":80},{"r":29,"g":40,"v":82},{"r":29,"g":41,"v":84},{"r":29,"g":42,"v":86},{"r":29,"g":43,"v":89},{"r":29,"g":44,"v":91},{"r":29,"g":45,"v":93},{"r":29,"g":46,"v":96},{"r":29,"g":47,"v":98},{"r":29,"g":48,"v":101},{"r":29,"g":49,"v":104},{"r":29,"g":50,"v":106},{"r":29,"g":51,"v":109},
{"r":30,"g":1,"v":33},{"r":30,"g":2,"v":30},{"r":30,"g":3,"v":29},{"r":30,"g":4,"v":31},{"r":30,"g":5,"v":31},{"r":30,"g":6,"v":33},{"r":30,"g":7,"v":33},{"r":30,"g":8,"v":35},{"r":30,"g":9,"v":35},{"r":30,"g":10,"v":36},{"r":30,"g":11,"v":37},{"r":30,"g":12,"v":38},{"r":30,"g":13,"v":39},{"r":30,"g":14,"v":40},{"r":30,"g":15,"v":41},{"r":30,"g":16,"v":42},{"r":30,"g":17,"v":43},{"r":30,"g":18,"v":45},{"r":30,"g":19,"v":46},{"r":30,"g":20,"v":47},{"r":30,"g":21,"v":48},{"r":30,"g":22,"v":49},{"r":30,"g":23,"v":51},{"r":30,"g":24,"v":52},{"r":30,"g":25,"v":53},{"r":30,"g":26,"v":55},{"r":30,"g":27,"v":56},{"r":30,"g":28,"v":58},{"r":30,"g":29,"v":59},{"r":30,"g":30,"v":61},{"r":30,"g":31,"v":62},{"r":30,"g":32,"v":64},{"r":30,"g":33,"v":66},{"r":30,"g":34,"v":67},{"r":30,"g":35,"v":69},{"r":30,"g":36,"v":71},{"r":30,"g":37,"v":73},{"r":30,"g":38,"v":75},{"r":30,"g":39,"v":77},{"r":30,"g":40,"v":79},{"r":30,"g":41,"v":81},{"r":30,"g":42,"v":83},{"r":30,"g":43,"v":85},{"r":30,"g":44,"v":87},{"r":30,"g":45,"v":90},{"r":30,"g":46,"v":92},{"r":30,"g":47,"v":95},{"r":30,"g":48,"v":97},{"r":30,"g":49,"v":100},{"r":30,"g":50,"v":102},{"r":30,"g":51,"v":105}
]},
"mark": {"type": "line", "color": "#3f6fc0", "opacity": 0.3, "strokeWidth": 2.5, "strokeJoin": "round"},
"encoding": {
  "x": {
    "field": "g",
    "type": "quantitative",
    "scale": {"domain": [-1, 53], "nice": false, "zero": false},
    "axis": {
      "title": "Generation",
      "values": [0, 10, 20, 30, 40, 50],
      "grid": false,
      "domainColor": "black",
      "domainWidth": 2,
      "tickColor": "black",
      "tickWidth": 2,
      "tickSize": 20,
      "labelFontSize": 32,
      "labelColor": "black",
      "labelPadding": 25,
      "titleFontSize": 32,
      "titleFontWeight": "normal",
      "titleColor": "black",
      "titlePadding": 46
    }
  },
  "y": {
    "field": "v",
    "type": "quantitative",
    "scale": {"domain": [18.6, 250], "nice": false, "zero": false},
    "axis": {
      "title": "Abundance",
      "values": [50, 100, 150, 200, 250],
      "grid": false,
      "domainColor": "black",
      "domainWidth": 2,
      "tickColor": "black",
      "tickWidth": 2,
      "tickSize": 19,
      "labelFontSize": 32,
      "labelColor": "black",
      "labelPadding": 20,
      "labelAngle": 0,
      "titleFontSize": 32,
      "titleFontWeight": "normal",
      "titleColor": "black",
      "titlePadding": 27
    }
  },
  "detail": {"field": "r", "type": "nominal"}
}
}
